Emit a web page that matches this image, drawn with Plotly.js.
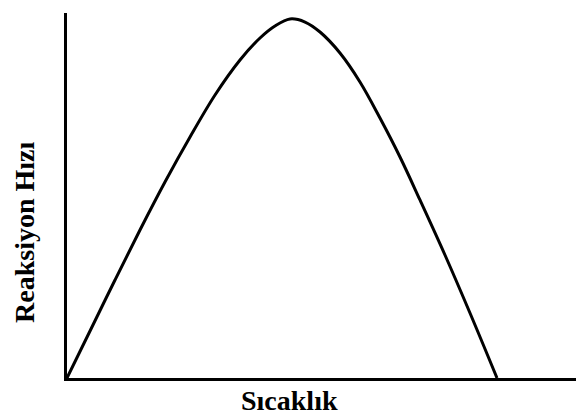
<!DOCTYPE html>
<html>
<head>
<meta charset="utf-8">
<script src="https://cdn.plot.ly/plotly-3.0.1.min.js"></script>
<style>html,body{margin:0;padding:0;background:#fff;}#chart{width:576px;height:417px;}</style>
</head>
<body>
<div id="chart"></div>
<script>
// Temperature (arbitrary units, 0-100 along x axis)
const sicaklik = [0, 4.52, 9.43, 14.34, 19.25, 24.17, 29.08, 33.99, 37.92, 40.86, 43.81, 46.76, 49.71, 53.63, 57.56, 61.49, 65.42, 69.35, 74.26, 79.17, 84.48];
// Reaction rate (arbitrary units, 0-100)
const hiz = [0, 12.88, 26.85, 40.55, 53.70, 66.03, 77.53, 87.12, 93.15, 96.44, 98.36, 97.53, 94.79, 89.04, 81.10, 71.23, 60.55, 48.77, 33.70, 17.81, 0];
const xTitle = "Sıcaklık";
const yTitle = "Reaksiyon Hızı";

const trace = {
  x: sicaklik, y: hiz, type: 'scatter', mode: 'lines',
  line: {color: '#000', width: 3, shape: 'spline', smoothing: 1},
  hoverinfo: 'skip'
};
const font = {family: '"Liberation Serif", "Times New Roman", serif', size: 28, color: '#000', weight: 'bold'};
const layout = {
  width: 576, height: 417,
  margin: {l: 67, r: 0, t: 13, b: 39},
  paper_bgcolor: '#fff', plot_bgcolor: '#fff',
  showlegend: false,
  xaxis: {range: [0, 100], showline: true, linecolor: '#000', linewidth: 3, showgrid: false, zeroline: false, showticklabels: false, ticks: ''},
  yaxis: {range: [0, 100], showline: true, linecolor: '#000', linewidth: 3, showgrid: false, zeroline: false, showticklabels: false, ticks: ''},
  annotations: [
    {text: '<b>' + xTitle + '</b>', xref: 'paper', yref: 'paper', x: 0.438, y: -0.063, xanchor: 'center', yanchor: 'middle', showarrow: false, font: font},
    {text: '<b>' + yTitle + '</b>', xref: 'paper', yref: 'paper', x: -0.0845, y: 0.40, xanchor: 'center', yanchor: 'middle', textangle: -90, showarrow: false, font: font}
  ]
};
Plotly.newPlot('chart', [trace], layout, {staticPlot: true, displayModeBar: false});
</script>
</body>
</html>
